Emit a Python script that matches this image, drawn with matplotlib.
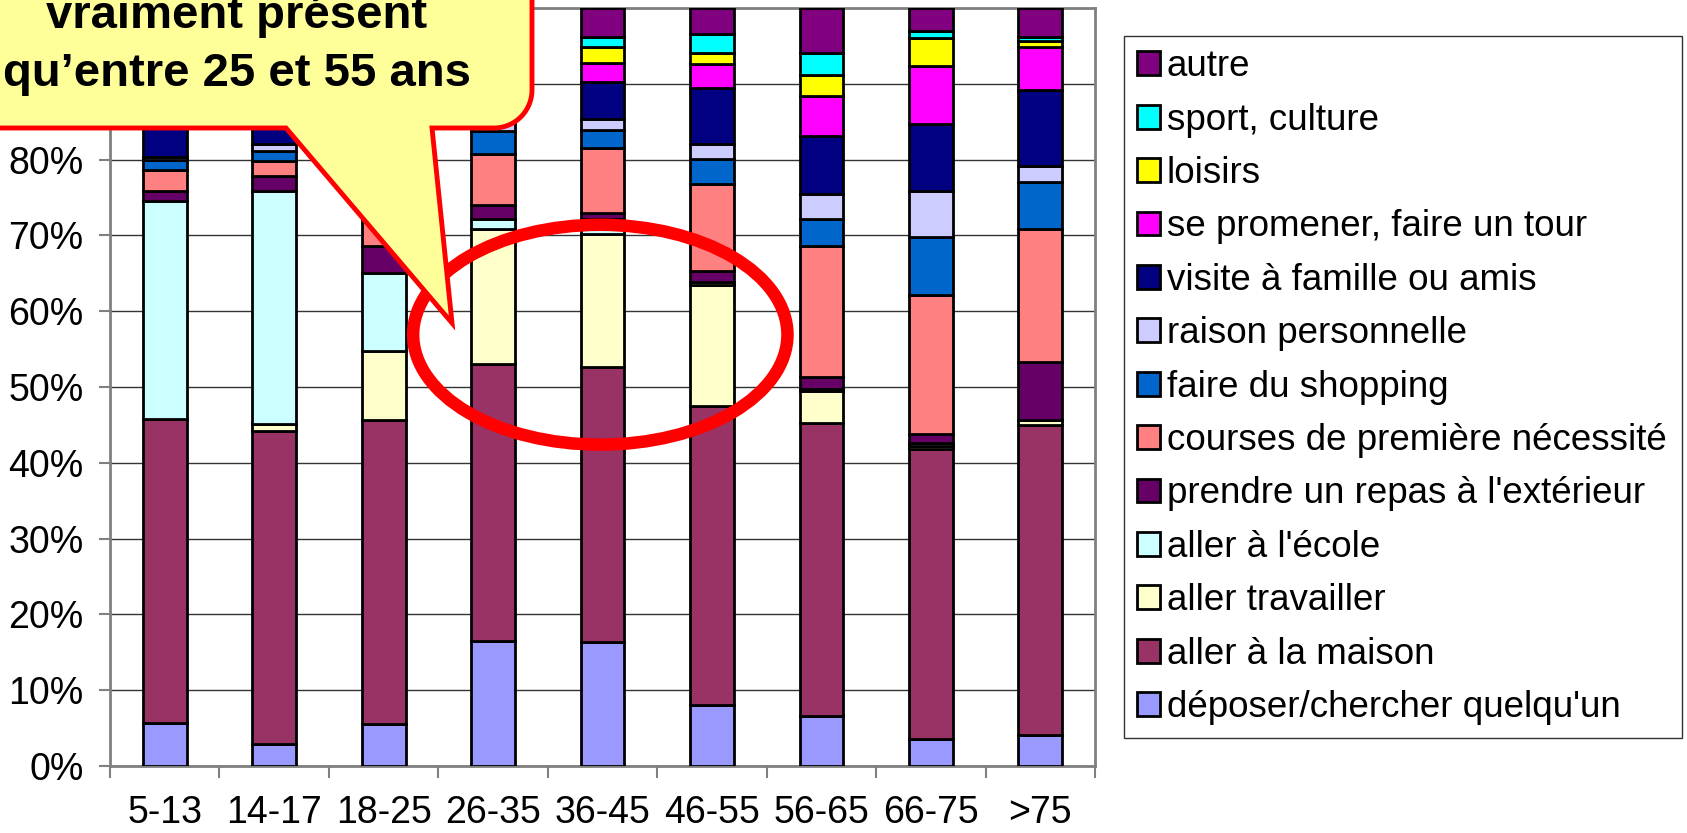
import numpy as np
import matplotlib
matplotlib.use('Agg')
import matplotlib.pyplot as plt
from matplotlib.patches import Patch, Ellipse, PathPatch
from matplotlib.path import Path
from matplotlib.ticker import FuncFormatter, FixedLocator
import matplotlib.transforms as mtransforms

plt.rcParams['font.family'] = ['Liberation Sans', 'DejaVu Sans']

# ---------------- data ----------------
age_groups = ["5-13", "14-17", "18-25", "26-35", "36-45", "46-55", "56-65", "66-75", ">75"]

deposer    = [5.7, 2.9, 5.6, 16.5, 16.3, 8.1, 6.6, 3.5, 4.1]
maison     = [40.1, 41.3, 40.0, 36.6, 36.4, 39.4, 38.6, 38.3, 40.9]
travailler = [0.0, 0.9, 9.1, 17.8, 17.5, 16.0, 4.3, 0.4, 0.6]
ecole      = [28.7, 30.8, 10.4, 1.3, 2.0, 0.3, 0.3, 0.4, 0.0]
repas      = [1.4, 1.9, 3.5, 1.8, 0.7, 1.5, 1.5, 1.2, 7.7]
courses    = [2.7, 2.0, 5.4, 6.8, 8.6, 11.5, 17.3, 18.3, 17.5]
shopping   = [1.4, 1.3, 3.0, 3.0, 2.4, 3.3, 3.6, 7.7, 6.3]
raison     = [0.4, 0.9, 1.5, 1.7, 1.5, 2.0, 3.2, 6.0, 2.1]
visite     = [8.1, 5.5, 8.5, 6.5, 4.9, 7.3, 7.7, 8.9, 10.0]
promener   = [2.5, 3.0, 4.0, 2.5, 2.4, 3.2, 5.3, 7.6, 5.6]
loisirs    = [2.0, 2.5, 3.0, 1.5, 2.1, 1.4, 2.8, 3.8, 0.8]
sport      = [4.0, 4.0, 3.0, 1.5, 1.4, 2.6, 2.8, 0.9, 0.6]
autre      = [3.0, 3.0, 3.0, 2.5, 3.8, 3.4, 6.0, 3.0, 3.8]

series_labels = ["déposer/chercher quelqu'un", "aller à la maison", "aller travailler",
                 "aller à l'école", "prendre un repas à l'extérieur",
                 "courses de première nécessité", "faire du shopping",
                 "raison personnelle", "visite à famille ou amis",
                 "se promener, faire un tour", "loisirs", "sport, culture", "autre"]
series_values = [deposer, maison, travailler, ecole, repas, courses, shopping,
                 raison, visite, promener, loisirs, sport, autre]
series_colors = ["#9999FF", "#993366", "#FFFFCC", "#CCFFFF", "#660066", "#FF8080",
                 "#0066CC", "#CCCCFF", "#000080", "#FF00FF", "#FFFF00", "#00FFFF",
                 "#800080"]

callout_lines = ["vraiment présent", "qu’entre 25 et 55 ans"]

# ---------------- figure ----------------
W, H = 1687, 833
fig = plt.figure(figsize=(W / 100, H / 100), dpi=100)
ax = fig.add_axes([110 / W, (H - 766) / H, (1095 - 110) / W, 758 / H])

x = np.arange(len(age_groups))
bottom = np.zeros(len(age_groups))
for vals, col in zip(series_values, series_colors):
    v = np.array(vals, dtype=float)
    ax.bar(x, v, bottom=bottom, width=0.4, color=col, edgecolor='black',
           linewidth=2.0, zorder=3)
    bottom += v

ax.set_xlim(-0.5, len(age_groups) - 0.5)
ax.set_ylim(0, 100)

# y axis
ax.set_yticks(np.arange(0, 101, 10))
ax.yaxis.set_major_formatter(FuncFormatter(lambda v, p: f"{int(round(v))}%"))
ax.tick_params(axis='y', which='major', length=8, width=1.5, color='#808080',
               labelsize=27, pad=11, direction='out')
ax.grid(axis='y', color='#333333', linewidth=1.0, zorder=0)
ax.set_axisbelow(True)

# x axis: ticks at boundaries, labels centered
ax.xaxis.set_major_locator(FixedLocator(np.arange(-0.5, len(age_groups), 1.0)))
ax.xaxis.set_major_formatter(FuncFormatter(lambda v, p: ""))
ax.set_xticks(x, minor=True)
ax.set_xticklabels(age_groups, minor=True)
ax.tick_params(axis='x', which='major', length=8.5, width=1.5, color='#808080',
               direction='out')
ax.tick_params(axis='x', which='minor', length=0, labelsize=27, pad=21)

for s in ax.spines.values():
    s.set_color('#808080')
    s.set_linewidth(2.0)

# red ellipse around 26-55
ell = Ellipse((3.98, 56.9), width=3.42, height=29.0, fill=False,
              edgecolor='#FF0000', linewidth=9, zorder=6, clip_on=False)
ax.add_patch(ell)

# legend
handles = [Patch(facecolor=c, edgecolor='black', linewidth=2.0)
           for c in series_colors][::-1]
leg = fig.legend(handles, series_labels[::-1], loc='upper left',
                 bbox_to_anchor=(1124 / W, 1 - 36 / H, 558 / W, 0.0),
                 mode='expand', borderaxespad=0, frameon=True, fancybox=False,
                 edgecolor='black', fontsize=26.5, handlelength=0.62,
                 handleheight=0.62, handletextpad=0.18, labelspacing=0.5,
                 borderpad=0.36)
leg.get_frame().set_linewidth(1.0)

# callout bubble (pixel coordinates, y measured from the top)
pix = mtransforms.Affine2D().scale(1 / W, -1 / H).translate(0, 1) + fig.transFigure
r = 38
right, bot = 532, 128
theta = np.linspace(0, np.pi / 2, 20)
arc = np.column_stack([right - r + r * np.cos(theta), bot - r + r * np.sin(theta)])
verts = [(-60, -60), (right, -60), (right, bot - r)] + [tuple(p) for p in arc] + \
        [(432, bot), (452, 323), (286, bot), (-60, bot), (-60, -60)]
codes = [Path.MOVETO] + [Path.LINETO] * (len(verts) - 2) + [Path.CLOSEPOLY]
bubble = PathPatch(Path(verts, codes), facecolor='#FFFF99', edgecolor='#FF0000',
                   linewidth=3.5, transform=pix, zorder=10)
fig.add_artist(bubble)

fig.text(237 / W, 1 - 28 / H, callout_lines[0], ha='center', va='baseline',
         fontsize=34, fontweight='bold', zorder=12)
fig.text(237 / W, 1 - 86 / H, callout_lines[1], ha='center', va='baseline',
         fontsize=34, fontweight='bold', zorder=12)

fig.savefig('out.png', dpi=100)
